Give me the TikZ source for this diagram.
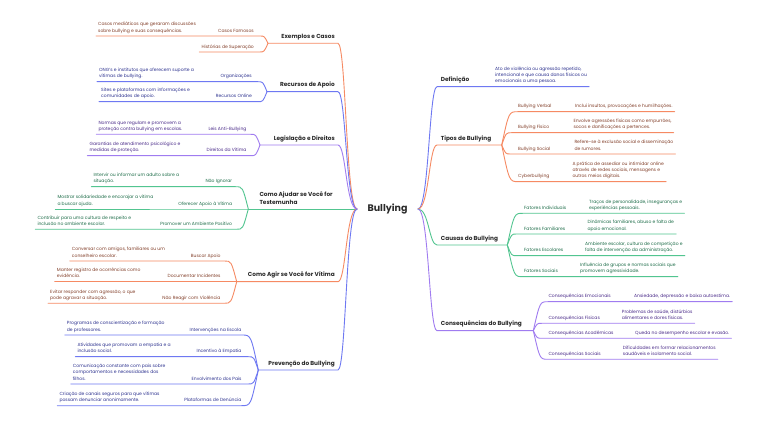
\documentclass[tikz,border=0pt]{standalone}
\usepackage{fontspec}
\setmainfont{Poppins}
\usetikzlibrary{calc}
\definecolor{orline}{HTML}{F68A63}
\definecolor{ortxt}{HTML}{83402B}
\definecolor{blline}{HTML}{6E78F2}
\definecolor{bltxt}{HTML}{2E3390}
\definecolor{puline}{HTML}{A07CF0}
\definecolor{putxt}{HTML}{4B2C8A}
\definecolor{grline}{HTML}{52C590}
\definecolor{grtxt}{HTML}{1F6E4A}
\definecolor{maintxt}{HTML}{2A2A2A}
\tikzset{
 desc/.style={font=\fontsize{4.5}{6.4}\selectfont, inner sep=0pt, text depth=0pt, align=left},
 lbl/.style={font=\fontsize{4.5}{6.4}\selectfont, inner sep=0pt, text depth=0pt},
 mainlbl/.style={font=\fontsize{5.8}{8}\selectfont\bfseries, text=maintxt, inner sep=0pt, text depth=0pt, align=left},
 branch/.style={line width=0.9pt, line cap=round},
}
% left child: name, colour, child y, label right x, label, desc x, desc
\newcommand\mmLC[7]{%
  \pgfmathsetmacro\mmw{6+0.3*abs(#3-\mmfy)}%
  \pgfmathsetmacro\mmex{\mmfx-\mmw}%
  \pgfmathsetmacro\mmcx{\mmfx-0.45*\mmw}%
  \coordinate (#1e) at (\mmex,#3);
  \node[lbl, text=#2txt, anchor=south east] (#1l) at (#4,#3-3.6) {#5};
  \node[desc, text=#2txt, anchor=south west] (#1d) at (#6,#3-3.6) {#7};
  \coordinate (#1s) at ([xshift=-2pt]#1d.south west);
  \draw[branch, #2line] (\mmfan) .. controls (\mmcx,#3) .. (#1e) -- (#1s |- #1e);
}
% left child without description
\newcommand\mmLCn[5]{%
  \pgfmathsetmacro\mmw{6+0.3*abs(#3-\mmfy)}%
  \pgfmathsetmacro\mmex{\mmfx-\mmw}%
  \pgfmathsetmacro\mmcx{\mmfx-0.45*\mmw}%
  \coordinate (#1e) at (\mmex,#3);
  \node[lbl, text=#2txt, anchor=south east] (#1l) at (#4,#3-3.6) {#5};
  \coordinate (#1s) at ([xshift=-2pt]#1l.south west);
  \draw[branch, #2line] (\mmfan) .. controls (\mmcx,#3) .. (#1e) -- (#1s |- #1e);
}
% right child
\newcommand\mmRC[7]{%
  \pgfmathsetmacro\mmw{6+0.3*abs(#3-\mmfy)}%
  \pgfmathsetmacro\mmex{\mmfx+\mmw}%
  \pgfmathsetmacro\mmcx{\mmfx+0.45*\mmw}%
  \coordinate (#1e) at (\mmex,#3);
  \node[lbl, text=#2txt, anchor=south west] (#1l) at (#4,#3-3.6) {#5};
  \node[desc, text=#2txt, anchor=south west] (#1d) at (#6,#3-3.6) {#7};
  \coordinate (#1s) at ([xshift=2pt]#1d.south east);
  \draw[branch, #2line] (\mmfan) .. controls (\mmcx,#3) .. (#1e) -- (#1s |- #1e);
}
% left main: name, colour, y, fan x, text
\newcommand\mmLM[5]{%
  \coordinate (#1F) at (#4,#3);
  \node[mainlbl, anchor=south east] (#1) at (335,#3-4.6) {#5};
  \draw[branch, #2line] (CL) .. controls (346,209) and (346,#3) .. (338,#3) -- (#1F);
}
% right main
\newcommand\mmRM[5]{%
  \coordinate (#1F) at (#4,#3);
  \node[mainlbl, anchor=south west] (#1) at (440.7,#3-4.6) {#5};
  \draw[branch, #2line] (CR) .. controls (429,209) and (429,#3) .. (437,#3) -- (#1F);
}
\begin{document}
\begin{tikzpicture}[x=1pt,y=-1pt]
\fill[white] (0,0) rectangle (768,427);
\useasboundingbox (0,0) rectangle (768,427);
\node[font=\fontsize{9.5}{11}\selectfont\bfseries, text=maintxt, anchor=base, inner sep=0pt] (root) at (387.5,212) {Bullying};
\coordinate (CL) at (357,209);
\coordinate (CR) at (418,209);

% ---------- left side ----------
\def\mmfx{268}\def\mmfy{43.3}\def\mmfan{exF}
\mmLM{ex}{or}{43.3}{268}{Exemplos e Casos}
\mmLC{exa}{or}{36}{254}{Casos Famosos}{98}{Casos mediáticos que geraram discussões\\sobre bullying e suas consequências.}
\mmLCn{exb}{or}{52}{254}{Histórias de Superação}

\def\mmfx{267}\def\mmfy{91.7}\def\mmfan{reF}
\mmLM{re}{bl}{91.7}{267}{Recursos de Apoio}
\mmLC{rea}{bl}{81.7}{252}{Organizações}{99}{ONG's e institutos que oferecem suporte a\\vítimas de bullying.}
\mmLC{reb}{bl}{101.7}{252}{Recursos Online}{101}{Sites e plataformas com informações e\\comunidades de apoio.}

\def\mmfx{260}\def\mmfy{145}\def\mmfan{leF}
\mmLM{le}{pu}{145}{260}{Legislação e Direitos}
\mmLC{lea}{pu}{134.3}{246.7}{Leis Anti-Bullying}{98.3}{Normas que regulam e promovem a\\proteção contra bullying em escolas.}
\mmLC{leb}{pu}{155.7}{246.7}{Direitos da Vítima}{89.3}{Garantias de atendimento psicológico e\\medidas de proteção.}

\def\mmfx{248.3}\def\mmfy{209}\def\mmfan{ajF}
\coordinate (ajF) at (248.3,209);
\node[mainlbl, anchor=south west] (aj) at (259.3,209-4.6) {Como Ajudar se Você for\\Testemunha};
\draw[branch, grline] (CL) -- (ajF);
\mmLC{aja}{gr}{186.7}{232.3}{Não Ignorar}{93.3}{Intervir ou informar um adulto sobre a\\situação.}
\mmLC{ajb}{gr}{209}{232.3}{Oferecer Apoio à Vítima}{57.3}{Mostrar solidariedade e encorajar a vítima\\a buscar ajuda.}
\mmLC{ajc}{gr}{229.3}{232.3}{Promover um Ambiente Positivo}{37.3}{Contribuir para uma cultura de respeito e\\inclusão no ambiente escolar.}

\def\mmfx{236.7}\def\mmfy{281.7}\def\mmfan{agF}
\mmLM{ag}{or}{281.7}{236.7}{Como Agir se Você for Vítima}
\mmLC{aga}{or}{261}{220.7}{Buscar Apoio}{71.7}{Conversar com amigos, familiares ou um\\conselheiro escolar.}
\mmLC{agb}{or}{281.7}{220.7}{Documentar Incidentes}{56.7}{Manter registro de ocorrências como\\evidência.}
\mmLC{agc}{or}{303.3}{220.7}{Não Reagir com Violência}{50}{Evitar responder com agressão, o que\\pode agravar a situação.}

\def\mmfx{258.3}\def\mmfy{370}\def\mmfan{prF}
\mmLM{pr}{bl}{370}{258.3}{Prevenção do Bullying}
\mmLC{pra}{bl}{335}{241.7}{Intervenções na Escola}{66.7}{Programas de conscientização e formação\\de professores.}
\mmLC{prb}{bl}{356.7}{241.7}{Incentivo à Empatia}{77.3}{Atividades que promovam a empatia e a\\inclusão social.}
\mmLC{prc}{bl}{384}{241.7}{Envolvimento dos Pais}{72.7}{Comunicação constante com pais sobre\\comportamentos e necessidades dos\\filhos.}
\mmLC{prd}{bl}{405.7}{241.7}{Plataformas de Denúncia}{59.3}{Criação de canais seguros para que vítimas\\possam denunciar anonimamente.}

% ---------- right side ----------
\node[mainlbl, anchor=south west] (de) at (440.7,86.7-4.6) {Definição};
\node[desc, text=bltxt, anchor=south west] (ded) at (495,86.7-3.6) {Ato de violência ou agressão repetido,\\intencional e que causa danos físicos ou\\emocionais a uma pessoa.};
\coordinate (deE) at (437,86.7);
\coordinate (des) at ([xshift=2pt]ded.south east);
\draw[branch, blline] (CR) .. controls (429,209) and (429,86.7) .. (deE) -- (des |- deE);

\def\mmfx{501.7}\def\mmfy{145}\def\mmfan{tiF}
\mmRM{ti}{or}{145}{501.7}{Tipos de Bullying}
\mmRC{tia}{or}{111.7}{518}{Bullying Verbal}{575}{Inclui insultos, provocações e humilhações.}
\mmRC{tib}{or}{132.7}{518}{Bullying Físico}{573.3}{Envolve agressões físicas como empurrões,\\socos e danificações a pertences.}
\mmRC{tic}{or}{154}{518}{Bullying Social}{574.3}{Refere-se à exclusão social e disseminação\\de rumores.}
\mmRC{tid}{or}{181.7}{518}{Cyberbullying}{572.3}{A prática de assediar ou intimidar online\\através de redes sociais, mensagens e\\outros meios digitais.}

\def\mmfx{507.3}\def\mmfy{245}\def\mmfan{caF}
\mmRM{ca}{gr}{245}{507.3}{Causas do Bullying}
\mmRC{caa}{gr}{213.3}{524}{Fatores Individuais}{589}{Traços de personalidade, inseguranças e\\experiências pessoais.}
\mmRC{cab}{gr}{234}{524}{Fatores Familiares}{587.3}{Dinâmicas familiares, abuso e falta de\\apoio emocional.}
\mmRC{cac}{gr}{255.7}{524}{Fatores Escolares}{585}{Ambiente escolar, cultura de competição e\\falta de intervenção da administração.}
\mmRC{cad}{gr}{276.7}{524}{Fatores Sociais}{580}{Influência de grupos e normas sociais que\\promovem agressividade.}

\def\mmfx{533.3}\def\mmfy{330.7}\def\mmfan{coF}
\mmRM{co}{pu}{330.7}{533.3}{Consequências do Bullying}
\mmRC{coa}{pu}{301.7}{548.3}{Consequências Emocionais}{634}{Ansiedade, depressão e baixa autoestima.}
\mmRC{cob}{pu}{323.3}{548.3}{Consequências Físicas}{621.7}{Problemas de saúde, distúrbios\\alimentares e dores físicas.}
\mmRC{coc}{pu}{338.3}{548.3}{Consequências Acadêmicas}{635}{Queda no desempenho escolar e evasão.}
\mmRC{cod}{pu}{359.3}{548.3}{Consequências Sociais}{622.7}{Dificuldades em formar relacionamentos\\saudáveis e isolamento social.}
\end{tikzpicture}
\end{document}
